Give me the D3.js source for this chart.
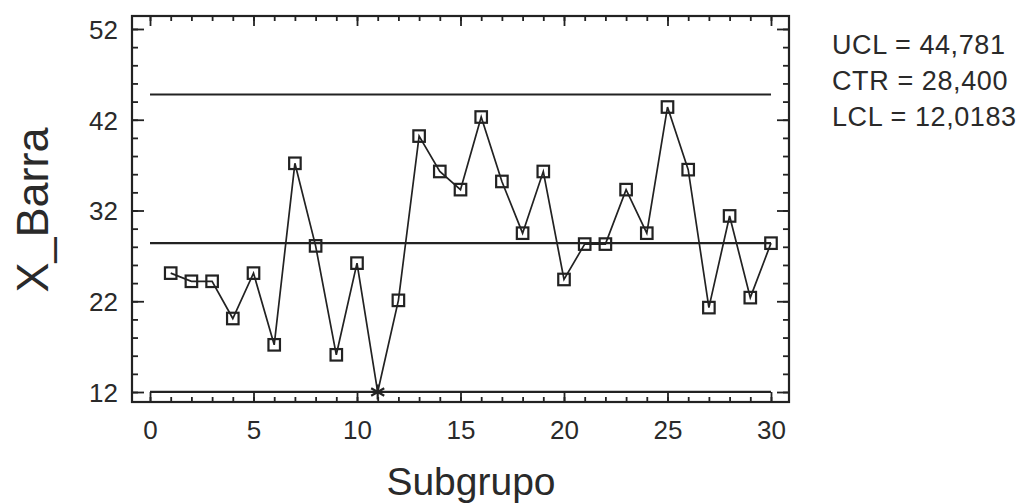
<!DOCTYPE html>
<html>
<head>
<meta charset="utf-8">
<script src="https://cdn.jsdelivr.net/npm/d3@7"></script>
<style>
  html, body { margin: 0; padding: 0; background: #fff; }
  svg { display: block; }
  text { font-family: "Liberation Sans", Arial, sans-serif; fill: #2a2a2a; }
</style>
</head>
<body>
<svg id="chart" width="1024" height="504"></svg>
<script>
// ---- data ----
const subgroups = d3.range(1, 31);
const xbar = [25.1, 24.2, 24.2, 20.1, 25.1, 17.2, 37.2, 28.1, 16.1, 26.2,
              12.0, 22.1, 40.2, 36.3, 34.3, 42.3, 35.2, 29.5, 36.3, 24.4,
              28.3, 28.3, 34.3, 29.5, 43.4, 36.5, 21.3, 31.4, 22.4, 28.4];
const limitNames = ["UCL", "CTR", "LCL"];
const limitValues = [44.781, 28.4, 12.0183];
const limitLabels = ["UCL = 44,781", "CTR = 28,400", "LCL = 12,0183"];
const xTickValues = [0, 5, 10, 15, 20, 25, 30];
const yTickValues = [12, 22, 32, 42, 52];
const xLabel = "Subgrupo";
const yLabel = "X_Barra";
const lcl = 12.0183;

// ---- layout ----
const svg = d3.select("#chart");
const L = 132, R = 789, T = 16, B = 402;
const ink = "#222";

const x = d3.scaleLinear().domain([-0.87, 30.87]).range([L, R]);
const y = d3.scaleLinear().domain([10.9, 53.43]).range([B, T]);

// frame
svg.append("rect").attr("x", L).attr("y", T).attr("width", R - L).attr("height", B - T)
  .attr("fill", "none").attr("stroke", ink).attr("stroke-width", 2.2);

function styleAxis(g) {
  g.select(".domain").remove();
  g.selectAll("line").attr("stroke", ink).attr("stroke-width", 1.8);
}
const xMinor = d3.range(0, 31);
const yMinor = d3.range(12, 53, 2);

// bottom ticks (inward, pointing up)
svg.append("g").attr("transform", `translate(0,${B})`)
  .call(d3.axisTop(x).tickValues(xMinor).tickSize(5).tickFormat("")).call(styleAxis);
svg.append("g").attr("transform", `translate(0,${B})`)
  .call(d3.axisTop(x).tickValues(xTickValues).tickSize(10).tickFormat("")).call(styleAxis);
// top ticks (inward, pointing down)
svg.append("g").attr("transform", `translate(0,${T})`)
  .call(d3.axisBottom(x).tickValues(xMinor).tickSize(5).tickFormat("")).call(styleAxis);
svg.append("g").attr("transform", `translate(0,${T})`)
  .call(d3.axisBottom(x).tickValues(xTickValues).tickSize(10).tickFormat("")).call(styleAxis);
// left ticks (inward)
svg.append("g").attr("transform", `translate(${L},0)`)
  .call(d3.axisRight(y).tickValues(yMinor).tickSize(6).tickFormat("")).call(styleAxis);
svg.append("g").attr("transform", `translate(${L},0)`)
  .call(d3.axisRight(y).tickValues(yTickValues).tickSize(12).tickFormat("")).call(styleAxis);
// right ticks (inward)
svg.append("g").attr("transform", `translate(${R},0)`)
  .call(d3.axisLeft(y).tickValues(yMinor).tickSize(6).tickFormat("")).call(styleAxis);
svg.append("g").attr("transform", `translate(${R},0)`)
  .call(d3.axisLeft(y).tickValues(yTickValues).tickSize(12).tickFormat("")).call(styleAxis);

// tick labels
const yLab = svg.append("g").attr("transform", `translate(${L},0)`)
  .call(d3.axisLeft(y).tickValues(yTickValues).tickSize(0).tickPadding(14).tickFormat(d3.format("d")));
yLab.select(".domain").remove();
yLab.selectAll("text").attr("font-size", 26).attr("font-family", "Liberation Sans, Arial, sans-serif")
  .attr("fill", "#2a2a2a").attr("dy", "0.36em");

const xLab = svg.append("g").attr("transform", `translate(0,${B})`)
  .call(d3.axisBottom(x).tickValues(xTickValues).tickSize(0).tickPadding(19).tickFormat(d3.format("d")));
xLab.select(".domain").remove();
xLab.selectAll("text").attr("font-size", 26).attr("font-family", "Liberation Sans, Arial, sans-serif")
  .attr("fill", "#2a2a2a");

// control lines
svg.append("g").selectAll("line").data(limitValues).join("line")
  .attr("x1", x(0)).attr("x2", x(30))
  .attr("y1", d => y(d)).attr("y2", d => y(d))
  .attr("stroke", ink).attr("stroke-width", 2.2);

// series line
const pts = subgroups.map((s, i) => [s, xbar[i]]);
svg.append("path").datum(pts)
  .attr("fill", "none").attr("stroke", ink).attr("stroke-width", 1.7)
  .attr("d", d3.line().x(d => x(d[0])).y(d => y(d[1])));

// markers
const inCtrl = pts.filter(d => d[1] >= lcl && d[1] <= limitValues[0]);
const outCtrl = pts.filter(d => d[1] < lcl || d[1] > limitValues[0]);
const sq = 11.5;
svg.append("g").selectAll("rect").data(inCtrl).join("rect")
  .attr("x", d => x(d[0]) - sq / 2).attr("y", d => y(d[1]) - sq / 2)
  .attr("width", sq).attr("height", sq)
  .attr("fill", "none").attr("stroke", ink).attr("stroke-width", 2.2);
svg.append("g").selectAll("path").data(outCtrl).join("path")
  .attr("transform", d => `translate(${x(d[0])},${y(d[1])})`)
  .attr("d", d3.symbol(d3.symbolAsterisk, 160))
  .attr("fill", "none").attr("stroke", ink).attr("stroke-width", 2.2);

// axis titles
svg.append("text").attr("x", 471).attr("y", 495).attr("text-anchor", "middle")
  .attr("font-size", 39).text(xLabel);
svg.append("text").attr("transform", "translate(48,210) rotate(-90)").attr("text-anchor", "middle")
  .attr("font-size", 45).text(yLabel);

// limit annotations
svg.append("g").selectAll("text").data(limitLabels).join("text")
  .attr("x", 832).attr("y", (d, i) => 54 + i * 36)
  .attr("font-size", 27).attr("letter-spacing", 0.6)
  .text(d => d);
</script>
</body>
</html>
